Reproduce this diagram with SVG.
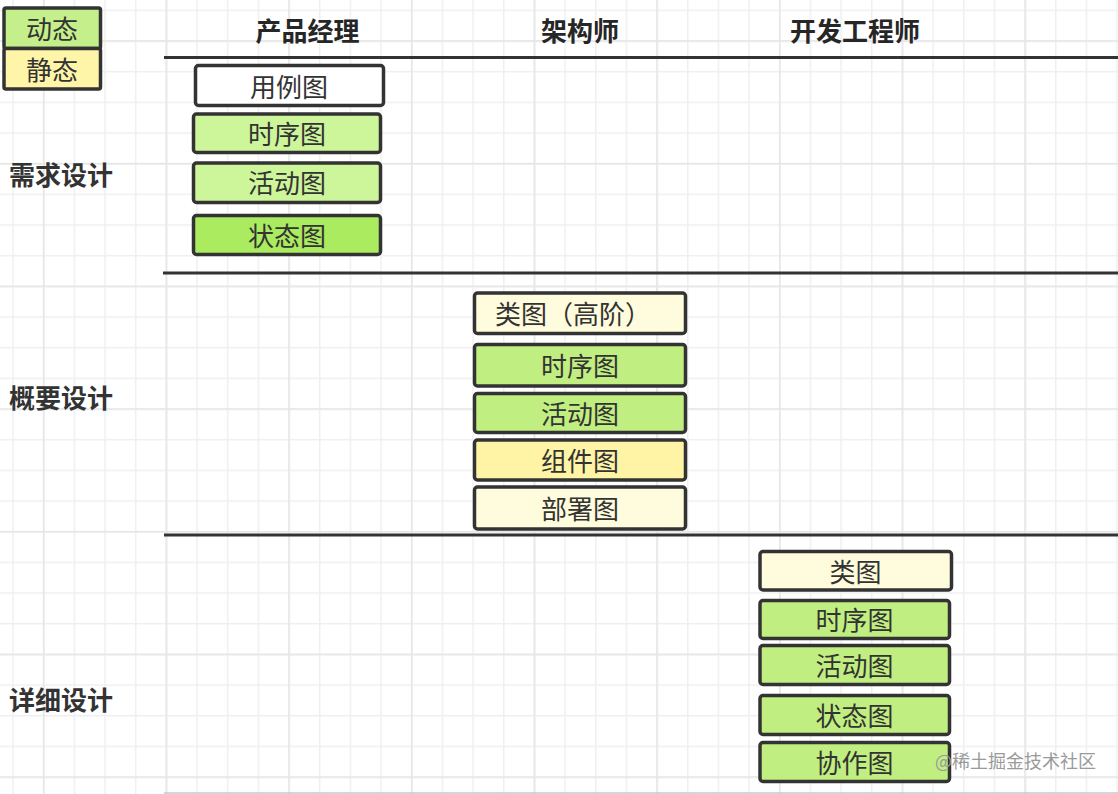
<svg xmlns="http://www.w3.org/2000/svg" width="1118" height="794" viewBox="0 0 1118 794">
  <defs>
    <pattern id="gridMinor" patternUnits="userSpaceOnUse" x="12.25" y="9.55" width="30.67" height="30.67">
      <path d="M0 0.75 H30.67 M0.75 0 V30.67" stroke="#efefef" stroke-width="1.5" fill="none"/>
    </pattern>
    <pattern id="gridMajor" patternUnits="userSpaceOnUse" x="42.92" y="40.25" width="122.68" height="122.68">
      <path d="M0 0.75 H122.68 M0.75 0 V122.68" stroke="#e6e6e6" stroke-width="1.5" fill="none"/>
    </pattern>
  </defs>
  <style>
    .box { stroke: #333333; stroke-width: 3.5; }
    .lbl { font-family: "Noto Sans CJK SC", "Noto Sans", sans-serif; font-size: 26px; fill: #333333; text-anchor: middle; }
    .hdr { font-family: "Noto Sans CJK SC", "Noto Sans", sans-serif; font-size: 26px; font-weight: bold; fill: #262626; text-anchor: middle; }
    .row { font-family: "Noto Sans CJK SC", "Noto Sans", sans-serif; font-size: 26px; font-weight: bold; fill: #333333; }
    .sep { stroke: #333333; stroke-width: 3; }
    .white { fill: #ffffff; }
    .green-l { fill: #cdf59a; }
    .green-s { fill: #aaeb5f; }
    .green-m { fill: #c0ee80; }
    .yellow { fill: #fff4a6; }
    .pale { fill: #fefcdc; }
  </style>

  <rect x="0" y="0" width="1118" height="794" fill="#ffffff"/>
  <rect x="0" y="0" width="1118" height="794" fill="url(#gridMinor)"/>
  <rect x="0" y="0" width="1118" height="794" fill="url(#gridMajor)"/>

  <!-- legend -->
  <g id="legend">
    <rect x="4" y="8" width="96.5" height="40.5" fill="#c5ef8a" class="box" rx="2"/>
    <rect x="4" y="48.5" width="96.5" height="40.5" fill="#fff5a8" class="box" rx="2"/>
    <text x="52" y="39" class="lbl">动态</text>
    <text x="52" y="80" class="lbl">静态</text>
  </g>

  <!-- headers -->
  <g id="headers">
    <text x="307.5" y="41" class="hdr">产品经理</text>
    <text x="580" y="41" class="hdr">架构师</text>
    <text x="855" y="41" class="hdr">开发工程师</text>
  </g>

  <!-- row labels -->
  <g id="rows">
    <text x="9" y="185" class="row">需求设计</text>
    <text x="9" y="408" class="row">概要设计</text>
    <text x="9" y="710" class="row">详细设计</text>
  </g>

  <!-- separators -->
  <g id="connectors">
    <line x1="164" y1="57.5" x2="1118" y2="57.5" class="sep"/>
    <line x1="163" y1="273" x2="1118" y2="273" class="sep"/>
    <line x1="164" y1="535" x2="1118" y2="535" class="sep"/>
    <line x1="164" y1="793" x2="1118" y2="793" stroke="#c8c8c8" stroke-width="1.5"/>
  </g>

  <!-- product manager column -->
  <g id="pm-usecase">
    <rect x="195.5" y="65.5" width="188" height="40" rx="3" class="box white"/>
    <text x="289" y="96.5" class="lbl">用例图</text>
  </g>
  <g id="pm-sequence">
    <rect x="193.5" y="114" width="187" height="38.5" rx="3" class="box green-l"/>
    <text x="287" y="143.5" class="lbl">时序图</text>
  </g>
  <g id="pm-activity">
    <rect x="193.5" y="163" width="187" height="39.5" rx="3" class="box green-l"/>
    <text x="287" y="193" class="lbl">活动图</text>
  </g>
  <g id="pm-state">
    <rect x="193.5" y="215.5" width="187" height="39" rx="3" class="box green-s"/>
    <text x="287" y="245.5" class="lbl">状态图</text>
  </g>

  <!-- architect column -->
  <g id="arch-class">
    <rect x="474.5" y="293" width="211" height="40.5" rx="3" class="box pale"/>
    <text x="573" y="323.5" class="lbl">类图（高阶）</text>
  </g>
  <g id="arch-sequence">
    <rect x="474.5" y="344.5" width="211" height="41.5" rx="3" class="box green-m"/>
    <text x="580" y="376" class="lbl">时序图</text>
  </g>
  <g id="arch-activity">
    <rect x="474.5" y="393.5" width="211" height="39" rx="3" class="box green-m"/>
    <text x="580" y="423.5" class="lbl">活动图</text>
  </g>
  <g id="arch-component">
    <rect x="474.5" y="440" width="211" height="40" rx="3" class="box yellow"/>
    <text x="580" y="470.5" class="lbl">组件图</text>
  </g>
  <g id="arch-deploy">
    <rect x="474.5" y="487" width="211" height="42" rx="3" class="box pale"/>
    <text x="580" y="518.5" class="lbl">部署图</text>
  </g>

  <!-- developer column -->
  <g id="dev-class">
    <rect x="760" y="551.5" width="191.5" height="38.5" rx="3" class="box pale"/>
    <text x="855.5" y="581.5" class="lbl">类图</text>
  </g>
  <g id="dev-sequence">
    <rect x="760" y="600.5" width="189.5" height="38" rx="3" class="box green-m"/>
    <text x="854.5" y="630" class="lbl">时序图</text>
  </g>
  <g id="dev-activity">
    <rect x="760" y="645.5" width="189.5" height="39" rx="3" class="box green-m"/>
    <text x="854.5" y="675.5" class="lbl">活动图</text>
  </g>
  <g id="dev-state">
    <rect x="760" y="695.5" width="189.5" height="39" rx="3" class="box green-m"/>
    <text x="854.5" y="725.5" class="lbl">状态图</text>
  </g>
  <g id="dev-collab">
    <rect x="760" y="742.5" width="189.5" height="39" rx="3" class="box green-m"/>
    <text x="854.5" y="772.5" class="lbl">协作图</text>
  </g>

  <!-- watermark -->
  <text x="935" y="768" font-family="Noto Sans CJK SC, Noto Sans, sans-serif" font-size="18" fill="#9a9a9a">@稀土掘金技术社区</text>
</svg>
